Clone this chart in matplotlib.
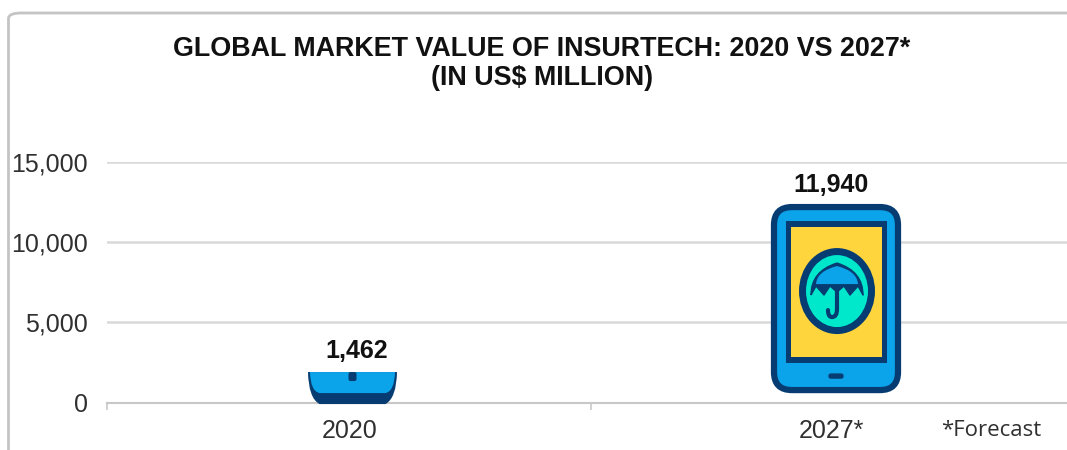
import matplotlib
matplotlib.use("Agg")
import matplotlib.pyplot as plt
from matplotlib.patches import FancyBboxPatch, Rectangle, Ellipse, PathPatch
from matplotlib.path import Path
from matplotlib.transforms import Affine2D

# Data
years = ["2020", "2027*"]
market_value = [1462, 11940]
y_ticks = [0, 5000, 10000, 15000]
title = "GLOBAL MARKET VALUE OF INSURTECH: 2020 VS 2027*\n(IN US$ MILLION)"

# Colours
DARK = "#073c72"
BLUE = "#0ba4ea"
YELLOW = "#ffd53d"
TEAL = "#00e8cc"
GRID = "#d9d9d9"
TEXT = "#303030"

W, H = 1067, 450
plt.rcParams["font.family"] = ["Liberation Sans", "DejaVu Sans"]

fig = plt.figure(figsize=(W / 100, H / 100), dpi=100)

# Rounded card outline, runs off the right and bottom edges
fig.add_artist(FancyBboxPatch((8.5 / W, (H - 500) / H), 1100 / W, 487 / H,
                              boxstyle="round,pad=0,rounding_size=0.012",
                              transform=fig.transFigure, mutation_aspect=W / H * 0.42,
                              fc="white", ec="#c4c4c4", lw=2, zorder=-1))

ax = fig.add_axes([107 / W, (H - 402.5) / H, (W - 107) / W, 240.5 / H])
ax.patch.set_alpha(0)
ax.set_xlim(0, 960 / 484)
ax.set_ylim(0, 15000)

for s in ["top", "left", "right"]:
    ax.spines[s].set_visible(False)
ax.spines["bottom"].set_color("#c8c8c8")
ax.spines["bottom"].set_linewidth(1.5)

ax.set_yticks(y_ticks)
ax.set_yticklabels([f"{v:,}" for v in y_ticks], fontsize=18, color=TEXT)
ax.tick_params(axis="y", length=0, pad=14)
ax.set_xticks([0, 1])
ax.set_xticklabels([])
ax.tick_params(axis="x", length=5, width=1.2, color="#c8c8c8")
ax.yaxis.grid(True, color=GRID, lw=1.8)
ax.set_axisbelow(True)

px_x = 1 / 484
px_y = 15000 / 240.5
x_pos = [0.5 + 3.5 * px_x, 1.5 + 3 * px_x]
TOP_OFFSET = 7  # picture sticks out a little above the true value

# Invisible bars carry the values, the pictures sit on them
ax.bar(x_pos, market_value, width=0.2, color="none", edgecolor="none")


def local_transform(cx, value, height):
    # local units are pixels, x from the centre, y up from the picture's bottom
    base = value + (TOP_OFFSET - height) * px_y
    return Affine2D().scale(px_x, px_y).translate(cx, base) + ax.transData


def draw_tablet(cx, value):
    h = 189
    t = local_transform(cx, value, h)

    def add(p):
        p.set_transform(t)
        p.set_clip_on(False)
        p.set_zorder(3)
        ax.add_patch(p)

    add(FancyBboxPatch((-62, 3), 124, 183, boxstyle="round,pad=0,rounding_size=18",
                       fc=BLUE, ec=DARK, lw=4.5))
    add(Rectangle((-50, 30), 101, 142, fc=DARK, ec="none"))
    add(Rectangle((-45, 36), 91, 130, fc=YELLOW, ec="none"))
    add(Ellipse((1, 102), 76, 86, fc=DARK, ec="none"))
    add(Ellipse((1, 102), 62, 72, fc=TEAL, ec="none"))
    # umbrella: dark dome with a scalloped lower edge, blue top on it
    verts = [(-25, 98), (-25, 122), (1, 130), (27, 122), (27, 98),
             (22, 107), (14, 98), (8, 107), (1, 101), (-6, 107), (-12, 98), (-20, 107), (-25, 98)]
    codes = [Path.MOVETO, Path.CURVE3, Path.CURVE3, Path.CURVE3, Path.CURVE3] + [Path.LINETO] * 8
    add(PathPatch(Path(verts, codes), fc=DARK, ec=DARK, lw=1, joinstyle="round"))
    dome = [(-20, 109), (-19, 122), (1, 127), (21, 122), (22, 109), (-20, 109)]
    dome_codes = [Path.MOVETO, Path.CURVE3, Path.CURVE3, Path.CURVE3, Path.CURVE3, Path.CLOSEPOLY]
    add(PathPatch(Path(dome, dome_codes), fc=BLUE, ec="none"))
    handle = Path([(1, 102), (1, 84), (1, 76), (-4, 76), (-8, 76), (-8, 83)],
                  [Path.MOVETO, Path.LINETO, Path.CURVE3, Path.CURVE3, Path.CURVE3, Path.CURVE3])
    add(PathPatch(handle, fc="none", ec=DARK, lw=3, capstyle="round"))
    add(FancyBboxPatch((-7, 15), 14, 4, boxstyle="round,pad=0,rounding_size=2", fc=DARK, ec=DARK, lw=1))


def draw_stub(cx, value):
    # the short bar only shows the lower edge of the same tablet
    h = 32
    t = local_transform(cx, value, h)

    def add(p):
        p.set_transform(t)
        p.set_zorder(3)
        p.set_clip_on(False)
        ax.add_patch(p)

    outer = [(-44.5, h), (-44, 6), (-33, 0), (33, 0), (44, 6), (44.5, h), (-44.5, h)]
    outer_codes = [Path.MOVETO, Path.CURVE3, Path.CURVE3, Path.LINETO,
                   Path.CURVE3, Path.CURVE3, Path.CLOSEPOLY]
    add(PathPatch(Path(outer, outer_codes), fc=DARK, ec="none"))
    inner = [(-42.5, h), (-42, 13), (-33, 11), (33, 11), (42, 13), (42.5, h), (-42.5, h)]
    add(PathPatch(Path(inner, outer_codes), fc=BLUE, ec="none"))
    add(FancyBboxPatch((-4, 23), 8, 9, boxstyle="round,pad=0,rounding_size=2", fc=DARK, ec="none"))


draw_stub(x_pos[0], market_value[0])
draw_tablet(x_pos[1], market_value[1])

# Value labels and category labels
label_y = [352, 186]
bar_top_y = [379.6, 211.6]
for x, v, py, top in zip(x_pos, market_value, label_y, bar_top_y):
    ax.annotate(f"{v:,}", xy=(x, v), xytext=(-5 if v > 5000 else 4, top - py),
                textcoords="offset pixels", ha="center", va="center",
                fontsize=18, fontweight="bold", color="#111111", annotation_clip=False)
label_dx = [-3, -5]
for x, lab, dx in zip(x_pos, years, label_dx):
    ax.annotate(lab, xy=(x, 0), xytext=(dx, -28), textcoords="offset pixels",
                ha="center", va="center", fontsize=18, color=TEXT)

fig.text(542 / W, 1 - 63.5 / H, title, ha="center", va="center", fontsize=19.4,
         fontweight="bold", color="#111111", linespacing=1.15)
fig.text(941 / W, 1 - 430 / H, "*Forecast", ha="left", va="center", fontsize=16,
         family=["Open Sans", "DejaVu Sans"], color=TEXT)

fig.savefig("out.png", dpi=100)
